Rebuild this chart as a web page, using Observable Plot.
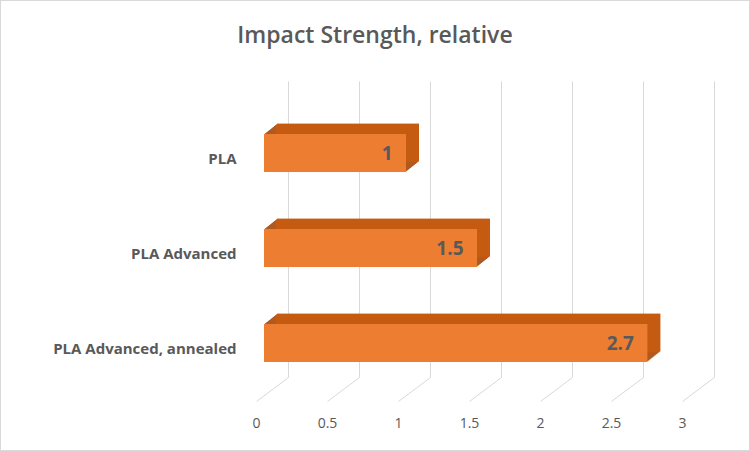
<!DOCTYPE html>
<html><head><meta charset="utf-8">
<script src="https://cdn.jsdelivr.net/npm/d3@7"></script>
<script src="https://cdn.jsdelivr.net/npm/@observablehq/plot@0.6"></script>
<style>
body{margin:0;background:#fff;}
#wrap{position:relative;width:748px;height:449px;border:1px solid #d9d9d9;font-family:"Open Sans",sans-serif;}
#title{position:absolute;top:17px;left:0;width:100%;text-align:center;font-size:23px;font-weight:600;color:#595959;}
svg{position:absolute;top:0;left:0;}
</style></head><body>
<div id="wrap"><div id="title">Impact Strength, relative</div></div>
<script>
const categories = ["PLA", "PLA Advanced", "PLA Advanced, annealed"];
const values = [1, 1.5, 2.7];
const ticks = [0, 0.5, 1, 1.5, 2, 2.5, 3];
const tickLabels = ["0", "0.5", "1", "1.5", "2", "2.5", "3"];

const bars = categories.map((c, i) => ({c, i, v: values[i]}));
const tk = ticks.map((t, j) => ({t, label: tickLabels[j]}));
const steps = d3.range(1, 14);
const depthMarks = steps.map(s => Plot.rect(bars, {x1: 0, x2: "v", y1: d => d.i - 0.2, y2: d => d.i + 0.2, fill: s > 11 ? "#C55A11" : "#AE5A21", dx: s, dy: -s * 0.8}));

const chart = Plot.plot({
  width: 748, height: 449,
  marginLeft: 263, marginRight: 59, marginTop: 104.5, marginBottom: 449 - 389.5,
  x: {domain: [0, 3], axis: null},
  y: {domain: [-0.5, 2.5], axis: null, reverse: true},
  style: {background: "transparent", fontFamily: "Open Sans, sans-serif"},
  marks: [
    Plot.link(tk, {x1: "t", x2: "t", y1: -0.758, y2: 2.358, dx: 24, stroke: "#d9d9d9"}),
    Plot.link(tk, {x1: d => d.t - 0.056, x2: d => d.t + 0.169, y1: 2.61, y2: 2.358, stroke: "#d9d9d9"}),
    Plot.text(tk, {x: "t", y: 2.84, text: "label", dx: -8, fontSize: 14, fill: "#595959"}),
    ...depthMarks,
    Plot.rect(bars, {x1: 0, x2: "v", y1: d => d.i - 0.2, y2: d => d.i + 0.2, fill: "#ED7D31"}),
    Plot.text(bars, {x: "v", y: "i", text: d => String(d.v), dx: -14, textAnchor: "end", fontSize: 19, fontWeight: "bold", fill: "#595959"}),
    Plot.text(bars, {x: 0, y: "i", text: "c", dx: -28, dy: 6, textAnchor: "end", fontSize: 15, fontWeight: "bold", fill: "#595959"})
  ]
});
document.getElementById("wrap").appendChild(chart);
</script></body></html>
